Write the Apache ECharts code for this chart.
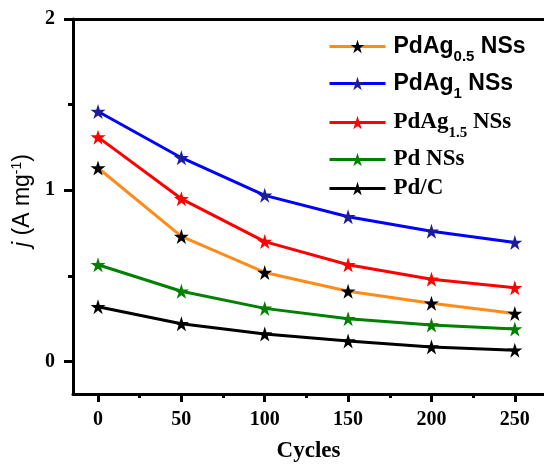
<!DOCTYPE html>
<html>
<head>
<meta charset="utf-8">
<script src="https://cdn.jsdelivr.net/npm/echarts@6/dist/echarts.min.js"></script>
<style>
  html, body { margin: 0; padding: 0; background: #fff; }
  #chart { width: 544px; height: 468px; }
</style>
</head>
<body>
<div id="chart"></div>
<script>
;(function() {
  var cycles = [0, 50, 100, 150, 200, 250]
  var pdag05 = [1.13, 0.73, 0.52, 0.41, 0.34, 0.28]
  var pdag1 = [1.46, 1.19, 0.97, 0.845, 0.76, 0.695]
  var pdag15 = [1.31, 0.95, 0.70, 0.565, 0.48, 0.43]
  var pdNSs = [0.565, 0.41, 0.31, 0.25, 0.213, 0.19]
  var pdC = [0.32, 0.22, 0.16, 0.12, 0.085, 0.066]

  var xTicks = [0, 50, 100, 150, 200, 250]
  var xMinor = [25, 75, 125, 175, 225]
  var yTicks = [0, 1, 2]
  var yMinor = [0.5, 1.5]

  var serif = '"Liberation Serif", "Times New Roman", serif'
  var sans = '"Liberation Sans", Arial, sans-serif'
  var star = 'path://M50,0 L61.2,34.5 L97.6,34.5 L68.2,55.9 L79.4,90.5 L50,69.1 L20.6,90.5 L31.8,55.9 L2.4,34.5 L38.8,34.5 Z'

  var seriesDefs = [
    {name: 'PdAg0.5 NSs', data: pdag05, line: '#ff8c1a', star: '#000000',
      label: '{a|PdAg}{s|0.5}{a| NSs}', font: sans},
    {name: 'PdAg1 NSs', data: pdag1, line: '#0000ff', star: '#1c1c9c',
      label: '{a|PdAg}{s|1}{a| NSs}', font: sans},
    {name: 'PdAg1.5 NSs', data: pdag15, line: '#ff0000', star: '#ff0000',
      label: '{a|PdAg}{s|1.5}{a| NSs}', font: serif},
    {name: 'Pd NSs', data: pdNSs, line: '#008000', star: '#008000',
      label: '{a|Pd NSs}', font: serif},
    {name: 'Pd/C', data: pdC, line: '#000000', star: '#000000',
      label: '{a|Pd/C}', font: serif},
  ]
  var legendY = [47, 84, 123, 160, 189]

  var chart = echarts.init(document.getElementById('chart'))

  var legends = seriesDefs.map(function(s, i) {
    return {
      data: [s.name],
      left: 328,
      top: legendY[i] - 12,
      padding: 0,
      itemWidth: 56,
      itemHeight: 17,
      lineStyle: {width: 3},
      formatter: function() { return s.label },
      textStyle: {
        padding: [0, 0, 0, 3],
        rich: {
          a: {fontFamily: s.font, fontWeight: 'bold', fontSize: 23, color: '#000', lineHeight: 24},
          s: {fontFamily: s.font, fontWeight: 'bold', fontSize: 15, color: '#000', lineHeight: 14,
            verticalAlign: 'bottom', padding: [0, 0, -6, 0]}
        }
      }
    }
  })

  // axes that only carry tick marks
  function xTickAxis(values, len) {
    return {
      type: 'value', min: -15, max: 267.5, position: 'bottom',
      axisLine: {show: false, onZero: false},
      axisTick: {show: true, customValues: values, length: len, lineStyle: {width: 3, color: '#000'}},
      axisLabel: {show: false}, splitLine: {show: false}
    }
  }
  function yTickAxis(values, len) {
    return {
      type: 'value', min: -0.19, max: 2, position: 'left',
      axisLine: {show: false, onZero: false},
      axisTick: {show: true, customValues: values, length: len, lineStyle: {width: 3, color: '#000'}},
      axisLabel: {show: false}, splitLine: {show: false}
    }
  }

  var option = {
    animation: false,
    grid: {left: 73, right: 0, top: 19, bottom: 71},
    legend: legends,
    xAxis: [
      {
        type: 'value', min: -15, max: 267.5, position: 'bottom',
        name: 'Cycles', nameLocation: 'middle', nameGap: 46,
        nameTextStyle: {fontFamily: serif, fontWeight: 'bold', fontSize: 23, color: '#000'},
        axisLine: {show: true, onZero: false, lineStyle: {color: '#000', width: 3}},
        axisTick: {show: false},
        axisLabel: {customValues: xTicks, margin: 16, fontFamily: serif, fontWeight: 'bold', fontSize: 20, color: '#000'},
        splitLine: {show: false}
      },
      {
        type: 'value', min: -15, max: 267.5, position: 'top',
        axisLine: {show: true, onZero: false, lineStyle: {color: '#000', width: 3}},
        axisTick: {show: false}, axisLabel: {show: false}, splitLine: {show: false}
      },
      xTickAxis(xTicks, 8),
      xTickAxis(xMinor, 4)
    ],
    yAxis: [
      {
        type: 'value', min: -0.19, max: 2,
        name: '{i|j}{n| (A mg}{sup|-1}{n|)}', nameLocation: 'middle', nameRotate: 90, nameGap: 33,
        nameTextStyle: {
          padding: [0, 0, 0, 12],
          rich: {
            i: {fontFamily: sans, fontStyle: 'italic', fontSize: 23, color: '#000', lineHeight: 24},
            n: {fontFamily: sans, fontSize: 23, color: '#000', lineHeight: 24},
            sup: {fontFamily: sans, fontSize: 14, color: '#000', lineHeight: 14, verticalAlign: 'top'}
          }
        },
        axisLine: {show: true, onZero: false, lineStyle: {color: '#000', width: 3}},
        axisTick: {show: false},
        axisLabel: {customValues: yTicks, margin: 18, fontFamily: serif, fontWeight: 'bold', fontSize: 20, color: '#000'},
        splitLine: {show: false}
      },
      yTickAxis(yTicks, 9),
      yTickAxis(yMinor, 5)
    ],
    series: seriesDefs.map(function(s) {
      return {
        name: s.name,
        type: 'line',
        xAxisIndex: 0,
        yAxisIndex: 0,
        data: cycles.map(function(c, k) { return [c, s.data[k]] }),
        symbol: star,
        symbolSize: 15,
        lineStyle: {color: s.line, width: 3},
        itemStyle: {color: s.star},
        z: 3
      }
    })
  }

  chart.setOption(option)
})()
</script>
</body>
</html>
